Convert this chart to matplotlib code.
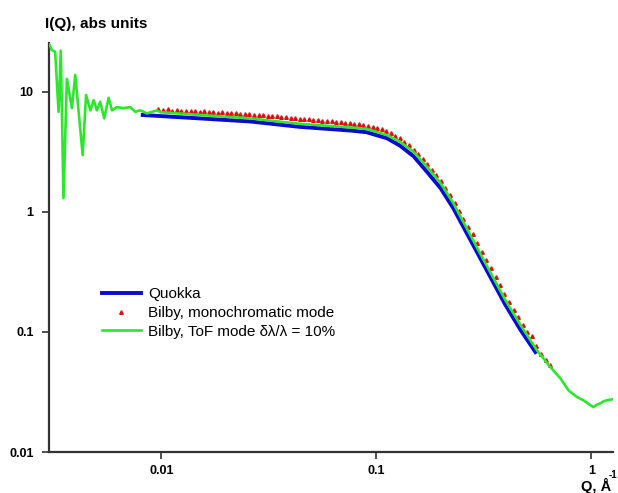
import matplotlib
matplotlib.use("Agg")
import matplotlib.pyplot as plt
from matplotlib.ticker import NullLocator

plt.rcParams['font.family'] = ['Liberation Sans', 'DejaVu Sans']

# Bilby, ToF mode (green)
green_q = [0.00301, 0.00310, 0.00321, 0.00333, 0.00341, 0.00351, 0.00364, 0.00384,
           0.00398, 0.00431, 0.00447, 0.00468, 0.00485, 0.00502, 0.00520, 0.00543,
           0.00569, 0.00590, 0.00622, 0.00666, 0.00718, 0.00757, 0.00798, 0.00858,
           0.00955, 0.0099, 0.0152, 0.0259, 0.0443, 0.0757, 0.0906, 0.112, 0.129,
           0.149, 0.172, 0.199, 0.228, 0.298, 0.398, 0.468, 0.558, 0.644, 0.717,
           0.782, 0.857, 0.918, 0.96, 1.02, 1.06, 1.10, 1.14, 1.18, 1.25]
green_i = [24.9, 22.2, 21.5, 6.8, 22.0, 1.3, 12.8, 7.3,
           13.8, 2.97, 9.4, 7.0, 8.5, 7.0, 8.25, 6.0,
           8.9, 7.0, 7.45, 7.3, 7.45, 6.8, 7.0, 6.6,
           7.0, 6.75, 6.4, 6.0, 5.4, 5.05, 4.89, 4.36, 3.83,
           3.16, 2.37, 1.73, 1.18, 0.48, 0.184, 0.114, 0.0703, 0.051, 0.0411,
           0.0327, 0.0287, 0.027, 0.0255, 0.0237, 0.0248, 0.0255, 0.0265, 0.027, 0.0275]

# Quokka (blue)
blue_q = [0.0082, 0.015, 0.026, 0.044, 0.076, 0.09, 0.112, 0.129, 0.149, 0.172,
          0.199, 0.228, 0.298, 0.398, 0.468, 0.549]
blue_i = [6.4, 6.0, 5.65, 5.1, 4.75, 4.6, 4.1, 3.55, 2.9, 2.15,
          1.57, 1.07, 0.44, 0.168, 0.104, 0.068]

# Bilby, monochromatic mode (red triangles)
red_q = [0.0097, 0.0102, 0.0107, 0.0112, 0.0118, 0.0124, 0.0130, 0.0137, 0.0143, 0.0151,
         0.0158, 0.0166, 0.0174, 0.0183, 0.0192, 0.0202, 0.0212, 0.0222, 0.0233, 0.0245,
         0.0257, 0.0270, 0.0284, 0.0298, 0.0313, 0.0328, 0.0345, 0.0362, 0.0380, 0.0399,
         0.0419, 0.0440, 0.0462, 0.0485, 0.0509, 0.0535, 0.0561, 0.0589, 0.0619, 0.0650,
         0.0682, 0.0716, 0.0752, 0.0790, 0.0829, 0.0871, 0.0914, 0.0960, 0.101, 0.106,
         0.111, 0.117, 0.122, 0.129, 0.135, 0.142, 0.149, 0.156, 0.164, 0.172,
         0.181, 0.190, 0.199, 0.209, 0.220, 0.231, 0.242, 0.254, 0.267, 0.280,
         0.294, 0.309, 0.324, 0.341, 0.358, 0.376, 0.394, 0.414, 0.435, 0.456,
         0.479, 0.503, 0.528, 0.555, 0.583, 0.612, 0.640]
red_i = [7.2, 7.0, 7.15, 6.95, 7.05, 6.9, 6.95, 6.85, 6.9, 6.8,
         6.85, 6.75, 6.8, 6.7, 6.72, 6.65, 6.68, 6.6, 6.58, 6.5,
         6.52, 6.45, 6.42, 6.38, 6.32, 6.3, 6.25, 6.2, 6.15, 6.08,
         6.05, 5.98, 5.95, 5.88, 5.85, 5.8, 5.76, 5.7, 5.66, 5.6,
         5.57, 5.52, 5.48, 5.42, 5.36, 5.3, 5.22, 5.12, 5.0, 4.86,
         4.7, 4.5, 4.32, 4.08, 3.85, 3.58, 3.3, 3.03, 2.75, 2.5,
         2.25, 2.02, 1.82, 1.58, 1.37, 1.18, 1.02, 0.88, 0.75, 0.65,
         0.55, 0.465, 0.40, 0.34, 0.288, 0.245, 0.208, 0.177, 0.151, 0.134,
         0.115, 0.099, 0.092, 0.077, 0.066, 0.058, 0.053]

x_ticks = [0.01, 0.1, 1]
x_tick_labels = ['0.01', '0.1', '1']
y_ticks = [0.01, 0.1, 1, 10]
y_tick_labels = ['0.01', '0.1', '1', '10']


def main():
    fig = plt.figure(figsize=(6.18, 4.93), dpi=100)
    ax = fig.add_axes([0.079, 0.083, 0.913, 0.83])

    ax.plot(blue_q, blue_i, color='#0a0ad0', lw=2.8, label='Quokka', zorder=2)
    ax.plot(red_q, red_i, ls='none', marker='^', ms=2.6, color='#dd1111',
            label='Bilby, monochromatic mode', zorder=3)
    ax.plot(green_q, green_i, color='#2ee62e', lw=1.9,
            label='Bilby, ToF mode δλ/λ = 10%', zorder=4)

    ax.set_xscale('log')
    ax.set_yscale('log')
    ax.set_xlim(0.003, 1.26)
    ax.set_ylim(0.01, 25.5)

    ax.set_xticks(x_ticks)
    ax.set_xticklabels(x_tick_labels)
    ax.set_yticks(y_ticks)
    ax.set_yticklabels(y_tick_labels)
    ax.xaxis.set_minor_locator(NullLocator())
    ax.yaxis.set_minor_locator(NullLocator())
    for lab in ax.get_xticklabels() + ax.get_yticklabels():
        lab.set_fontweight('bold')
        lab.set_fontsize(9)
    ax.tick_params(direction='out', length=5, width=1.2, color='#333333', pad=6)
    ax.tick_params(axis='x', pad=4)

    for side in ['top', 'right']:
        ax.spines[side].set_visible(False)
    for side in ['left', 'bottom']:
        ax.spines[side].set_linewidth(1.6)
        ax.spines[side].set_color('#333333')

    # axis titles placed like the original (top-left / bottom-right)
    fig.text(0.073, 0.943, 'I(Q), abs units', fontsize=11, fontweight='bold')
    fig.text(0.940, 0.004, 'Q, Å', fontsize=10.5, fontweight='bold', ha='left')
    fig.text(0.985, 0.030, '-1', fontsize=7, fontweight='bold', ha='left')

    ax.legend(loc='center left', bbox_to_anchor=(0.076, 0.34), frameon=False,
              fontsize=11, handlelength=2.5, handletextpad=0.5,
              labelspacing=0.3, borderpad=0.2)

    fig.savefig('out.png', dpi=100)
    plt.close(fig)


if __name__ == '__main__':
    main()
